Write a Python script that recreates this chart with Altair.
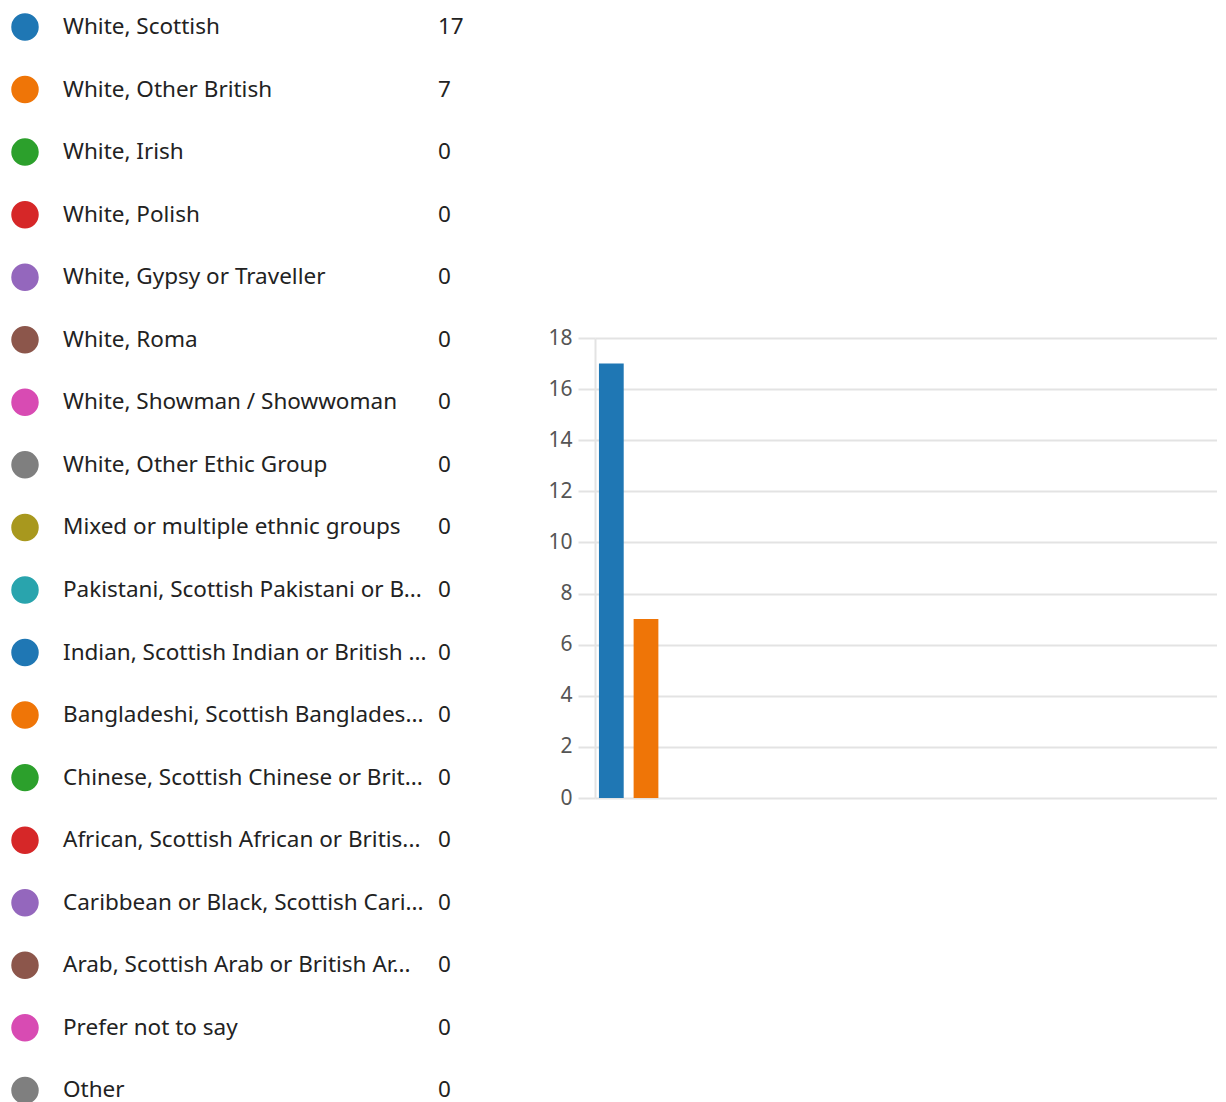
import altair as alt
import pandas as pd

labels = [
    "White, Scottish",
    "White, Other British",
    "White, Irish",
    "White, Polish",
    "White, Gypsy or Traveller",
    "White, Roma",
    "White, Showman / Showwoman",
    "White, Other Ethic Group",
    "Mixed or multiple ethnic groups",
    "Pakistani, Scottish Pakistani or B...",
    "Indian, Scottish Indian or British ...",
    "Bangladeshi, Scottish Banglades...",
    "Chinese, Scottish Chinese or Brit...",
    "African, Scottish African or Britis...",
    "Caribbean or Black, Scottish Cari...",
    "Arab, Scottish Arab or British Ar...",
    "Prefer not to say",
    "Other",
]
counts = [17, 7, 0, 0, 0, 0, 0, 0, 0, 0, 0, 0, 0, 0, 0, 0, 0, 0]
palette = ["#1f77b4", "#ef7507", "#2ca02c", "#d62728", "#9467bd",
           "#8c564b", "#d84bb3", "#7f7f7f", "#a8981e", "#29a4ad"]
colors = [palette[i % len(palette)] for i in range(len(labels))]

df = pd.DataFrame({
    "label": labels,
    "count": counts,
    "idx": list(range(len(labels))),
})

FONT = "Noto Sans"
color_scale = alt.Scale(domain=labels, range=colors)

ypos = alt.Y("idx:Q", axis=None,
             scale=alt.Scale(domain=[-0.304, 17.058], nice=False, zero=False, reverse=True))

base = alt.Chart(df)
dots = base.mark_circle(size=755, opacity=1).encode(
    x=alt.value(17), y=ypos,
    color=alt.Color("label:N", scale=color_scale, legend=None),
)
names = base.mark_text(align="left", baseline="middle", font=FONT, fontSize=22.5,
                       color="#222222").encode(
    x=alt.value(55), y=ypos, text="label:N")
nums = base.mark_text(align="left", baseline="middle", font=FONT, fontSize=22.5,
                      color="#222222").encode(
    x=alt.value(430), y=ypos, text="count:Q")

left = alt.layer(dots, names, nums).properties(width=470, height=1086)

bars = base.mark_bar().encode(
    x=alt.X("label:N", sort=None, axis=None,
            scale=alt.Scale(paddingInner=0.286, paddingOuter=0.114)),
    y=alt.Y("count:Q",
            scale=alt.Scale(domain=[0, 18], nice=False, range=[790, 330]),
            axis=alt.Axis(values=list(range(0, 19, 2)), title=None,
                          labelFont=FONT, labelFontSize=21, labelColor="#555555",
                          labelPadding=6, tickSize=17, tickColor="#e3e3e3",
                          tickWidth=2, domainColor="#e3e3e3", domainWidth=2,
                          gridColor="#e3e3e3", gridWidth=2)),
    color=alt.Color("label:N", scale=color_scale, legend=None),
).properties(width=622, height=1086)

chart = alt.hconcat(left, bars, spacing=69).properties(
    padding=0, background="white").configure_view(strokeWidth=0)

chart.save("out.html", embed_options={"renderer": "svg", "actions": False})
